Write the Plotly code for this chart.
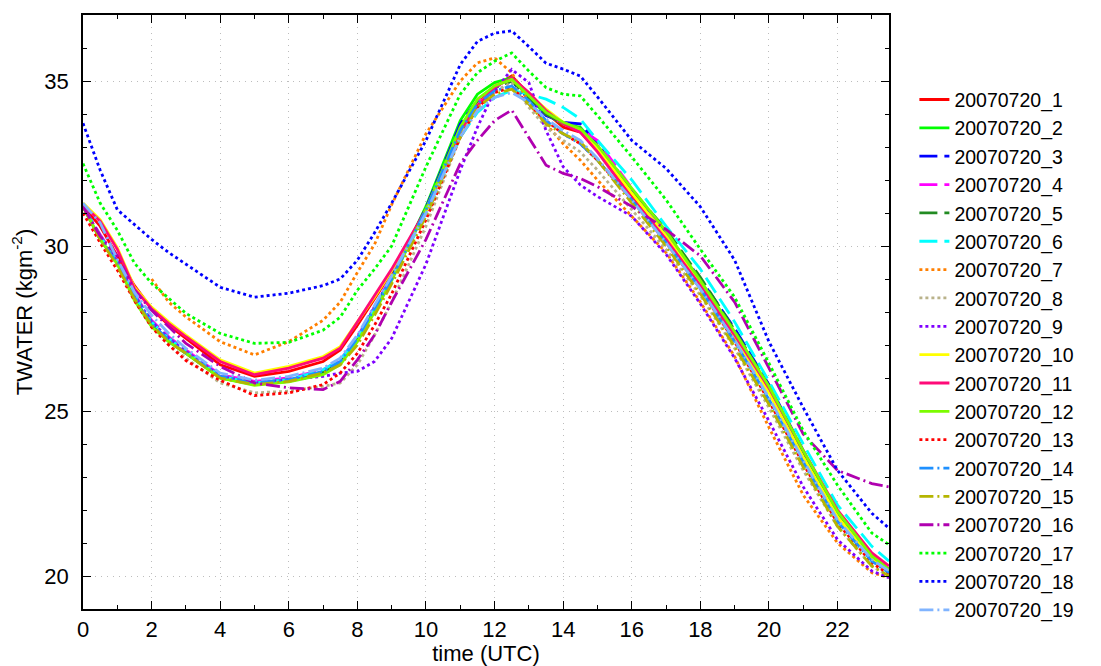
import plotly.graph_objects as go

T = [0, 0.5, 1, 1.5, 2, 2.5, 3, 4, 5, 6, 7, 7.5, 8, 8.5, 9, 10, 11, 11.5, 12, 12.5,
     13, 13.5, 14, 14.5, 15, 16, 17, 18, 19, 20, 21, 22, 23, 23.5]

names = ["20070720_%d" % i for i in range(1, 20)]

s1 = [31.2, 30.6, 29.7, 28.8, 28.1, 27.6, 27.2, 26.4, 26.05, 26.2, 26.5, 26.85, 27.6, 28.4, 29.2, 31.1, 33.6, 34.3, 34.85, 35.15, 34.6, 34.05, 33.6, 33.45, 32.9, 31.5, 30.25, 28.85, 27.3, 25.6, 23.6, 21.8, 20.5, 20.15]
s2 = [31.2, 30.2, 29.5, 28.4, 27.6, 27.1, 26.75, 26.0, 25.8, 25.9, 26.15, 26.45, 27.15, 28.1, 29.0, 31.2, 33.8, 34.6, 34.95, 35.1, 34.5, 34.0, 33.7, 33.6, 33.0, 31.7, 30.4, 28.95, 27.35, 25.7, 23.75, 21.9, 20.6, 20.2]
s3 = [31.2, 30.3, 29.5, 28.5, 27.7, 27.2, 26.8, 26.05, 25.85, 25.95, 26.2, 26.5, 27.2, 28.15, 29.05, 31.15, 33.7, 34.4, 34.8, 35.0, 34.45, 33.95, 33.75, 33.7, 33.1, 31.7, 30.4, 29.0, 27.5, 25.8, 23.8, 21.9, 20.6, 20.2]
s4 = [31.2, 30.35, 29.55, 28.55, 27.75, 27.25, 26.85, 26.1, 25.9, 26.0, 26.25, 26.55, 27.25, 28.15, 29.05, 31.1, 33.55, 34.35, 34.85, 35.05, 34.55, 34.0, 33.7, 33.55, 33.2, 31.75, 30.35, 28.9, 27.3, 25.6, 23.7, 21.85, 20.5, 20.15]
s5 = [31.2, 30.3, 29.5, 28.5, 27.7, 27.2, 26.8, 26.05, 25.85, 25.95, 26.2, 26.5, 27.2, 28.1, 29.0, 31.1, 33.6, 34.4, 34.8, 35.0, 34.5, 34.0, 33.7, 33.55, 33.0, 31.7, 30.5, 29.05, 27.45, 25.75, 23.75, 21.9, 20.55, 20.15]
s6 = [31.2, 30.3, 29.5, 28.5, 27.7, 27.2, 26.8, 26.05, 25.85, 25.95, 26.25, 26.55, 27.2, 28.1, 29.0, 31.0, 33.3, 34.05, 34.5, 34.72, 34.6, 34.45, 34.2, 33.85, 33.2, 32.0, 30.6, 29.3, 27.7, 25.9, 24.0, 22.15, 20.9, 20.45]
s7 = [None, None, None, None, 29.0, 28.3, 27.85, 27.1, 26.7, 27.1, 27.75, 28.3, 29.2, 30.05, 31.25, 33.4, 35.0, 35.55, 35.7, 35.25, 34.35, 33.7, 33.1, 32.6, 32.0, 30.9, 29.8, 28.3, 26.65, 24.5, 22.45, 21.0, 20.1, 19.95]
s8 = [31.2, 30.2, 29.4, 28.35, 27.55, 27.0, 26.6, 25.85, 25.55, 25.6, 25.75, 25.85, 26.4, 27.3, 28.3, 30.6, 33.3, 34.2, 34.7, 34.95, 34.2, 33.6, 33.2, 32.85, 32.3, 31.1, 29.9, 28.5, 26.9, 25.1, 23.2, 21.5, 20.3, 20.0]
s9 = [31.2, 30.3, 29.5, 28.5, 27.7, 27.2, 26.8, 26.05, 25.85, 25.95, 26.05, 26.15, 26.2, 26.5, 27.2, 29.45, 32.3, 33.6, 34.7, 35.35, 34.95, 33.5, 32.4, 31.85, 31.5, 30.9, 29.75, 28.25, 26.6, 24.7, 22.7, 21.1, 20.15, 19.95]
s10 = [31.3, 30.8, 29.95, 28.75, 28.15, 27.7, 27.3, 26.55, 26.15, 26.35, 26.65, 26.95, 27.7, 28.45, 29.25, 31.05, 33.45, 34.25, 34.85, 35.05, 34.6, 34.15, 33.75, 33.5, 32.95, 31.6, 30.3, 28.85, 27.2, 25.55, 23.6, 21.8, 20.5, 20.15]
s11 = [31.25, 30.75, 29.9, 28.7, 28.1, 27.65, 27.25, 26.5, 26.1, 26.3, 26.6, 26.9, 27.7, 28.5, 29.3, 31.1, 33.5, 34.25, 34.8, 35.1, 34.65, 34.1, 33.7, 33.45, 32.85, 31.45, 30.2, 28.8, 27.3, 25.7, 23.8, 22.0, 20.7, 20.3]
s12 = [31.2, 30.2, 29.45, 28.35, 27.55, 27.1, 26.75, 26.0, 25.78, 25.88, 26.1, 26.4, 27.1, 28.0, 28.95, 31.1, 33.6, 34.45, 34.85, 35.05, 34.55, 34.05, 33.75, 33.55, 33.05, 31.75, 30.45, 28.95, 27.4, 25.75, 23.8, 21.95, 20.6, 20.2]
s13 = [31.0, 30.1, 29.27, 28.35, 27.54, 27.0, 26.53, 25.93, 25.47, 25.55, 25.8, 26.15, 26.75, 27.6, 28.55, 30.8, 33.3, 34.2, 34.65, 34.8, 34.3, 33.8, 33.4, 33.1, 32.6, 31.4, 30.1, 28.7, 27.1, 25.3, 23.4, 21.6, 20.4, 20.05]
s14 = [31.2, 30.25, 29.45, 28.45, 27.65, 27.15, 26.75, 26.05, 25.85, 25.95, 26.2, 26.5, 27.2, 28.1, 29.0, 31.1, 33.5, 34.3, 34.7, 34.85, 34.4, 33.8, 33.4, 33.1, 32.6, 31.4, 30.1, 28.7, 27.1, 25.35, 23.45, 21.65, 20.45, 20.1]
s15 = [31.2, 30.2, 29.4, 28.4, 27.6, 27.1, 26.75, 26.0, 25.8, 25.9, 26.15, 26.4, 27.0, 27.9, 28.85, 30.9, 33.3, 34.2, 34.6, 34.75, 34.3, 33.7, 33.4, 33.15, 32.6, 31.3, 30.0, 28.55, 26.95, 25.2, 23.3, 21.5, 20.3, 20.0]
s16 = [31.2, 30.3, 29.7, 28.66, 28.05, 27.55, 27.05, 26.35, 25.85, 25.7, 25.65, 25.9, 26.55, 27.3, 28.3, 30.2, 32.5, 33.2, 33.8, 34.12, 33.3, 32.45, 32.2, 32.05, 31.8, 31.2, 30.5, 29.7, 28.3, 26.3, 24.3, 23.2, 22.8, 22.7]
s17 = [32.5, 31.3, 30.48, 29.48, 28.87, 28.4, 27.96, 27.35, 27.05, 27.08, 27.45, 27.84, 28.66, 29.3, 30.0, 32.4, 34.6, 35.25, 35.6, 35.85, 35.3, 34.8, 34.6, 34.55, 33.95, 32.7, 31.4, 29.9, 28.45, 26.45, 24.4, 22.75, 21.3, 20.95]
s18 = [33.72, 32.3, 31.1, 30.65, 30.2, 29.8, 29.45, 28.75, 28.45, 28.57, 28.8, 29.0, 29.57, 30.4, 31.3, 33.2, 35.5, 36.2, 36.45, 36.52, 36.04, 35.54, 35.36, 35.15, 34.52, 33.2, 32.35, 31.19, 29.57, 27.1, 25.1, 23.2, 21.9, 21.45]
s19 = [31.3, 30.7, 29.6, 28.6, 27.9, 27.35, 26.9, 26.15, 25.93, 26.05, 26.3, 26.6, 27.3, 28.2, 29.1, 31.0, 33.3, 34.1, 34.5, 34.65, 34.35, 33.85, 33.5, 33.2, 32.65, 31.4, 30.1, 28.7, 27.15, 25.4, 23.5, 21.7, 20.5, 20.15]

series = [s1, s2, s3, s4, s5, s6, s7, s8, s9, s10, s11, s12, s13, s14, s15, s16, s17, s18, s19]

colors = ["#ff0000", "#00ff00", "#0000ff", "#ff00ff", "#228b22", "#00ffff",
          "#ff7f00", "#b9b28a", "#7f00ff", "#ffff00", "#ff0a78", "#7cfc00",
          "#ff0000", "#1e90ff", "#b5b500", "#b000b0", "#00ff00", "#0000ff", "#80b4ff"]

SOLID = "solid"
DASH = "18px,7px"
DOT = "3px,3px"
DASHDOT = "14px,4px,2px,4px"
styles = [SOLID, SOLID, DASH, DASH, DASH, DASH, DOT, DOT, DOT, SOLID, SOLID, SOLID,
          DOT, DASHDOT, DASHDOT, DASHDOT, DOT, DOT, DASHDOT]

fig = go.Figure()
for name, ys, c, d in zip(names, series, colors, styles):
    fig.add_trace(go.Scatter(x=T, y=ys, mode="lines", name=name,
                             line=dict(color=c, width=2.8, dash=d)))

font = "Liberation Sans, Arial, sans-serif"
axis_common = dict(
    showline=True, linecolor="black", linewidth=1.5, mirror="allticks",
    ticks="inside", ticklen=8, tickwidth=1.2, tickcolor="black",
    showgrid=True, gridcolor="#bdbdbd", griddash="1px,5px", gridwidth=1,
    zeroline=False, tickfont=dict(size=22, color="black", family=font),
    automargin=False,
)
fig.update_layout(
    width=1101, height=666,
    margin=dict(l=83, r=212, t=15, b=57),
    plot_bgcolor="white", paper_bgcolor="white",
    font=dict(family=font, color="black", size=22),
    xaxis=dict(range=[0, 23.5], tick0=0, dtick=2, ticklabelstandoff=0, **axis_common,
               minor=dict(dtick=1, ticklen=4, ticks="inside", tickcolor="black", showgrid=False),
               title=dict(text="time (UTC)", font=dict(size=22), standoff=3)),
    yaxis=dict(range=[19, 37], tick0=20, dtick=5, ticklabelstandoff=8, **axis_common,
               minor=dict(dtick=1, ticklen=4, ticks="inside", tickcolor="black", showgrid=False),
               title=dict(text="TWATER (kgm<sup>-2</sup>)", font=dict(size=22), standoff=6)),
    legend=dict(x=1.0315, y=0.89, xanchor="left", yanchor="top",
                font=dict(size=19.5, family=font), bgcolor="rgba(0,0,0,0)",
                tracegroupgap=0, itemwidth=30),
    showlegend=True,
)
fig.write_html("out.html", config={"displayModeBar": False},
               post_script="document.body.style.margin='0';document.body.style.overflow='hidden';")
